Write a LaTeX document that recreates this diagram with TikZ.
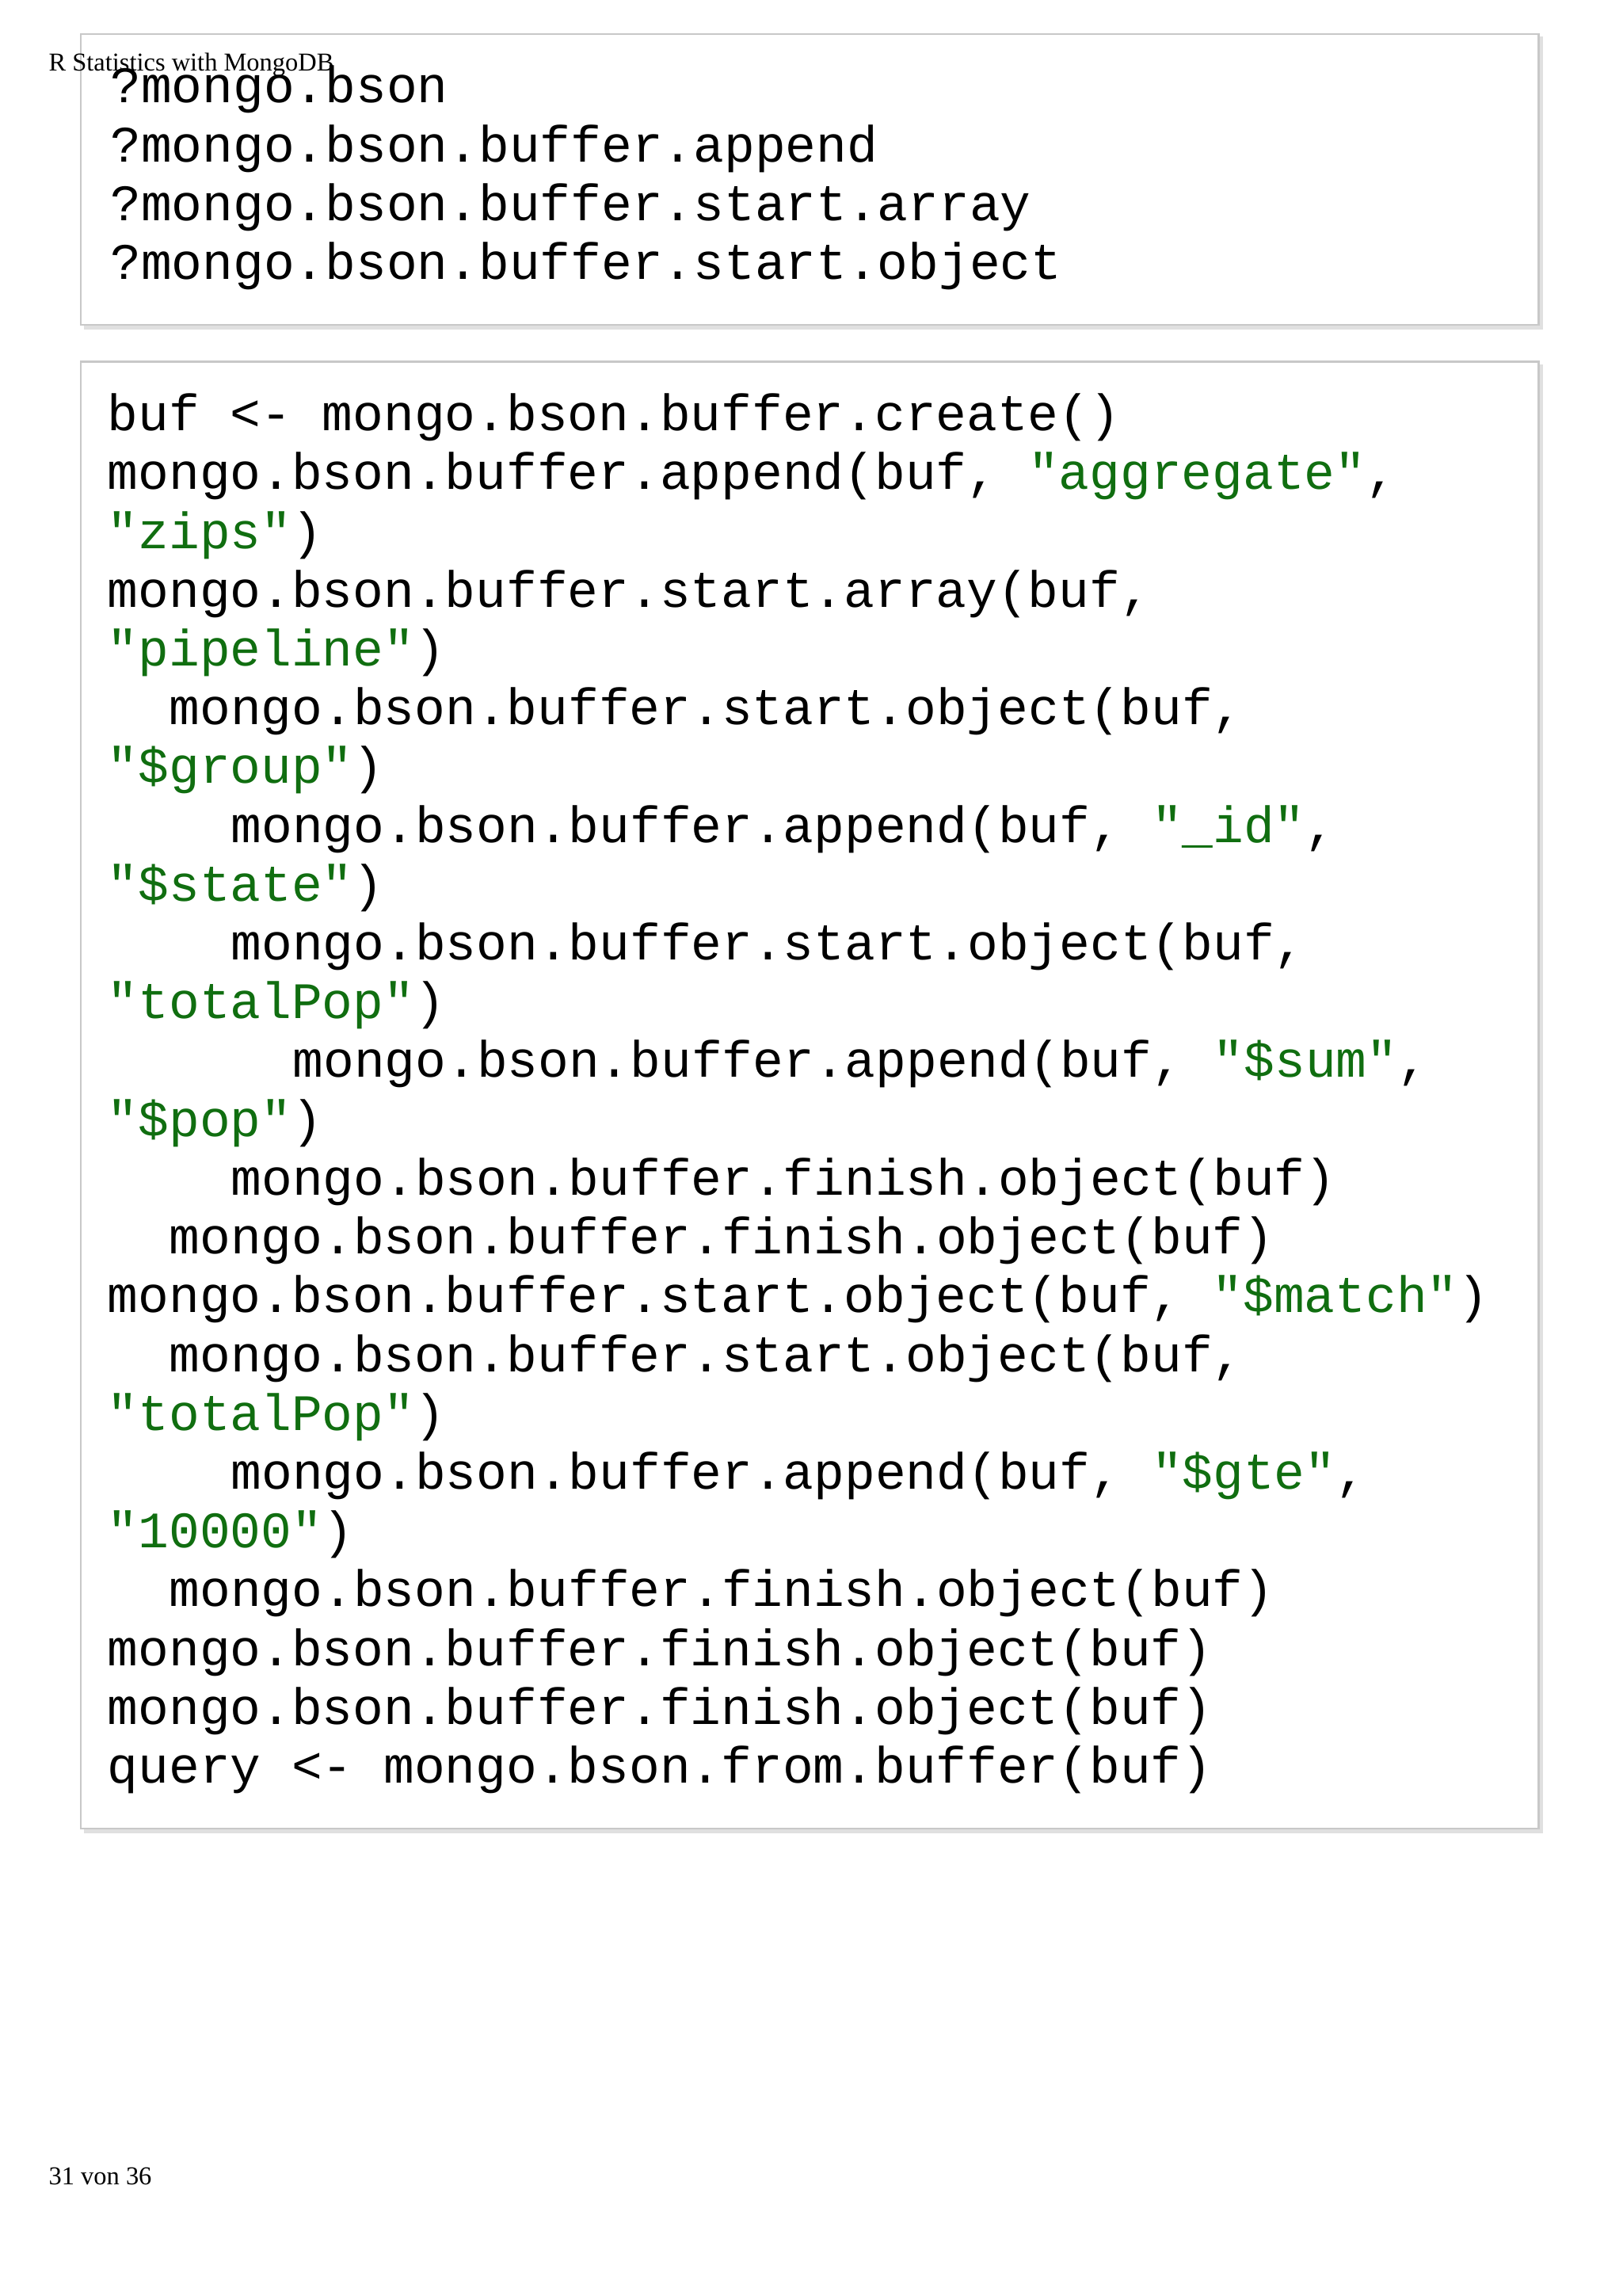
\documentclass[tikz,border=0pt]{standalone}
\usepackage{fontspec}
\setmonofont{Liberation Mono}
\setmainfont{Liberation Serif}
\definecolor{strg}{RGB}{16,110,16}
\definecolor{boxline}{RGB}{200,200,200}
\newcommand{\strq}[1]{\textcolor{strg}{#1}}
\begin{document}
\begin{tikzpicture}[x=1pt,y=-1pt,
  code/.style={anchor=base west,inner sep=0pt,font=\ttfamily\fontsize{34.8}{40}\selectfont},
  small/.style={anchor=base west,inner sep=0pt,font=\rmfamily\fontsize{17.5}{19}\selectfont}]
\useasboundingbox[fill=white] (0,0) rectangle (1104,1562);
\fill[black!12] (57,25) rectangle (1050,224);
\draw[boxline,fill=white,line width=1.2pt] (55,23) rectangle (1047,221);
\fill[black!12] (57,248) rectangle (1050,1247);
\draw[boxline,fill=white,line width=1.2pt] (55,246) rectangle (1047,1244);
\node[small] (hdr) at (33,48) {R Statistics with MongoDB};
\node[small] (pg) at (33,1486) {31 von 36};
\begin{scope}[yshift=2pt]
\node[code] (a1) at (75,72) {?mongo.bson};
\node[code] (a2) at (75,112) {?mongo.bson.buffer.append};
\node[code] (a3) at (75,152) {?mongo.bson.buffer.start.array};
\node[code] (a4) at (75,192) {?mongo.bson.buffer.start.object};
\node[code] (b1) at (73,295) {buf <- mongo.bson.buffer.create()};
\node[code] (b2) at (73,335) {mongo.bson.buffer.append(buf, \strq{"aggregate"},};
\node[code] (b3) at (73,375) {\strq{"zips"})};
\node[code] (b4) at (73,415) {mongo.bson.buffer.start.array(buf,};
\node[code] (b5) at (73,455) {\strq{"pipeline"})};
\node[code] (b6) at (115,495) {mongo.bson.buffer.start.object(buf,};
\node[code] (b7) at (73,535) {\strq{"\$group"})};
\node[code] (b8) at (157,575) {mongo.bson.buffer.append(buf, \strq{"\_id"},};
\node[code] (b9) at (73,615) {\strq{"\$state"})};
\node[code] (b10) at (157,655) {mongo.bson.buffer.start.object(buf,};
\node[code] (b11) at (73,695) {\strq{"totalPop"})};
\node[code] (b12) at (199,735) {mongo.bson.buffer.append(buf, \strq{"\$sum"},};
\node[code] (b13) at (73,775) {\strq{"\$pop"})};
\node[code] (b14) at (157,815) {mongo.bson.buffer.finish.object(buf)};
\node[code] (b15) at (115,855) {mongo.bson.buffer.finish.object(buf)};
\node[code] (b16) at (73,895) {mongo.bson.buffer.start.object(buf, \strq{"\$match"})};
\node[code] (b17) at (115,935) {mongo.bson.buffer.start.object(buf,};
\node[code] (b18) at (73,975) {\strq{"totalPop"})};
\node[code] (b19) at (157,1015) {mongo.bson.buffer.append(buf, \strq{"\$gte"},};
\node[code] (b20) at (73,1055) {\strq{"10000"})};
\node[code] (b21) at (115,1095) {mongo.bson.buffer.finish.object(buf)};
\node[code] (b22) at (73,1135) {mongo.bson.buffer.finish.object(buf)};
\node[code] (b23) at (73,1175) {mongo.bson.buffer.finish.object(buf)};
\node[code] (b24) at (73,1215) {query <- mongo.bson.from.buffer(buf)};
\end{scope}
\end{tikzpicture}
\end{document}
